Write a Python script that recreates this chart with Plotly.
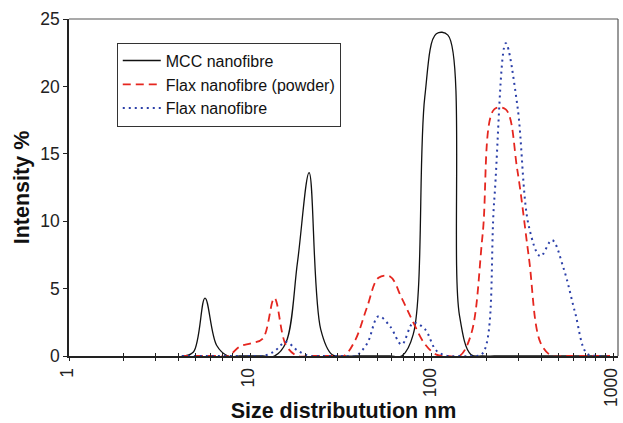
import plotly.graph_objects as go

# Particle size bins (nm), log-spaced
sizes = [4.187, 4.849, 5.615, 6.503, 7.531, 8.721, 10.1, 11.7, 13.54, 15.69,
         18.17, 21.04, 24.36, 28.21, 32.67, 37.84, 43.82, 50.75, 58.77, 68.06,
         78.82, 91.28, 105.7, 122.4, 141.8, 164.2, 190.1, 220.2, 255.0, 295.3,
         342.0, 396.1, 458.7, 531.2, 615.1, 712.4, 825.0, 955.4]

# Intensity (%) per bin
mcc = [0, 0.3, 4.3, 0.8, 0, 0, 0, 0, 0, 1.0,
       7.0, 13.6, 2.0, 0.1, 0, 0, 0, 0, 0, 0,
       1.6, 19.2, 23.9, 23.8, 3.0, 0.1, 0, 0, 0, 0,
       0, 0, 0, 0, 0, 0, 0, 0]
flax_powder = [0, 0, 0, 0, 0, 0.7, 0.95, 1.3, 4.3, 0.8,
               0, 0, 0, 0, 0, 1.2, 3.6, 5.8, 5.9, 4.3,
               2.5, 0.9, 0.1, 0, 0, 1.6, 9.0, 18.3, 18.3, 13.8,
               7.3, 1.0, 0, 0, 0, 0, 0, 0]
flax = [0, 0, 0, 0, 0, 0, 0, 0, 0.35, 1.05,
        0.4, 0, 0, 0, 0, 0, 0.9, 2.95, 2.2, 0.85,
        2.45, 2.0, 0.4, 0, 0, 0, 0.2, 11.5, 23.2, 18.6,
        9.6, 7.4, 8.6, 6.5, 3.2, 0.2, 0, 0]

series_names = ["MCC nanofibre", "Flax nanofibre (powder)", "Flax nanofibre"]

# Tick positions on the log axis: every integer of each decade, labels on decades only
x_tickvals = [m * 10 ** d for d in range(0, 3) for m in range(1, 10)] + [1000]
x_ticktext = [str(v) if v in (1, 10, 100, 1000) else "" for v in x_tickvals]
y_tickvals = [0, 5, 10, 15, 20, 25]

FONT = "Liberation Sans, Arial, sans-serif"
X_RANGE = [0, 3.025]

fig = go.Figure()
styles = [
    dict(color="#111111", width=1.3, dash="solid"),
    dict(color="#e5261f", width=1.8, dash="8px,5px"),
    dict(color="#2b3fa8", width=2.0, dash="2px,4px"),
]
for i, (name, vals, st) in enumerate(zip(series_names, [mcc, flax_powder, flax], styles)):
    fig.add_trace(go.Scatter(
        x=sizes, y=vals, mode="lines", name=name, legendgroup=f"g{i}",
        line=dict(shape="spline", smoothing=1, **st),
        cliponaxis=True,
    ))

# Hidden trace that puts the inward tick marks on a twin x axis
fig.add_trace(go.Scatter(x=[1, 1000], y=[0, 0], xaxis="x2", mode="lines",
                         line=dict(width=0), showlegend=False, hoverinfo="skip"))

fig.update_layout(
    width=623, height=423,
    margin=dict(l=69, r=5, t=19, b=67, autoexpand=False),
    paper_bgcolor="white", plot_bgcolor="white",
    font=dict(family=FONT, color="#222222", size=16),
    showlegend=True,
    legend=dict(
        x=0.087, y=0.93, xanchor="left", yanchor="top",
        bordercolor="#333333", borderwidth=1, bgcolor="white",
        font=dict(family=FONT, size=16, color="#111111"),
        tracegroupgap=0, itemwidth=38,
    ),
    xaxis=dict(
        type="log", range=X_RANGE, automargin=False,
        tickvals=x_tickvals, ticktext=x_ticktext, tickangle=-90,
        ticklabeloverflow="allow", ticklabelshift=-2,
        ticks="outside", ticklen=3, tickwidth=1, tickcolor="#222222",
        showgrid=False, zeroline=False,
        showline=True, linecolor="#222222", linewidth=2, mirror=False,
        tickfont=dict(family=FONT, size=17.5, color="#222222"),
        title=dict(text="<b>Size distributution nm</b>", standoff=8,
                   font=dict(family=FONT, size=21.5, color="#111111")),
    ),
    xaxis2=dict(
        type="log", range=X_RANGE, overlaying="x", anchor="y", side="bottom",
        automargin=False,
        tickvals=x_tickvals, ticks="inside", ticklen=3, tickwidth=1,
        tickcolor="#222222", showticklabels=False, showgrid=False,
        zeroline=False, showline=False,
    ),
    yaxis=dict(
        range=[0, 25], tickvals=y_tickvals, automargin=False,
        ticks="outside", ticklen=4, tickwidth=1, tickcolor="#222222",
        showgrid=False, zeroline=False,
        showline=True, linecolor="#222222", linewidth=1.5,
        tickfont=dict(family=FONT, size=17.5, color="#222222"),
        title=dict(text="<b>Intensity %</b>", standoff=5,
                   font=dict(family=FONT, size=21.5, color="#111111")),
    ),
    shapes=[
        dict(type="line", xref="paper", yref="paper", x0=0, x1=1, y0=1, y1=1,
             line=dict(color="#555555", width=1.2)),
        dict(type="line", xref="paper", yref="paper", x0=1, x1=1, y0=0, y1=1,
             line=dict(color="#555555", width=1.2)),
    ],
)

fig.write_html("out.html")
